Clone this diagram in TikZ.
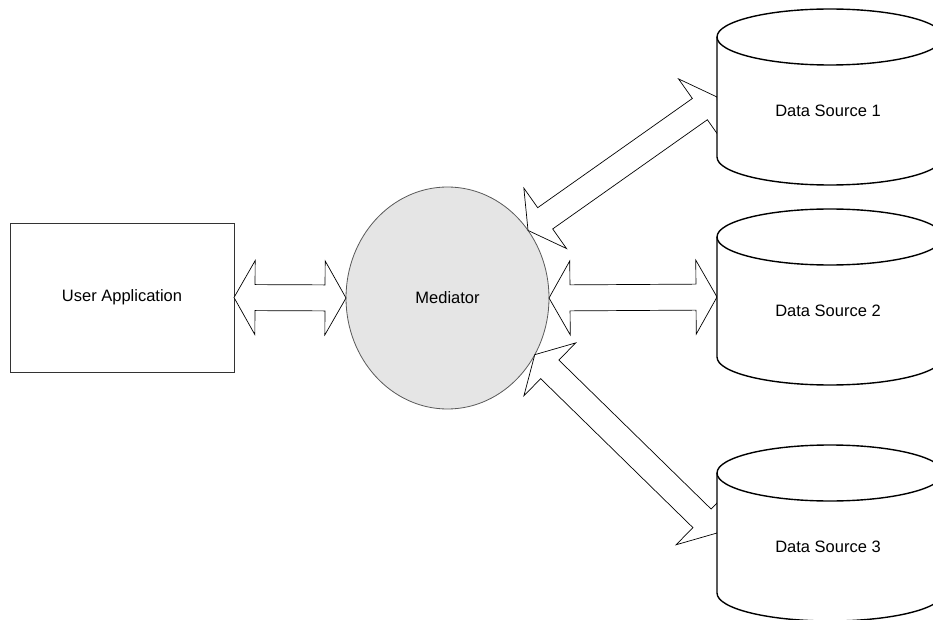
\documentclass[tikz,border=0pt]{standalone}
\usepackage{fontspec}
\setmainfont{Liberation Sans}
\usetikzlibrary{calc,shapes.geometric}

\tikzset{
  lbl/.style={font=\fontsize{16.5}{19}\selectfont},
  appbox/.style={draw=black!80, line width=0.9pt, minimum width=224pt,
    minimum height=149pt, inner sep=0pt, outer sep=0pt, lbl},
  medellipse/.style={ellipse, draw=black!65, fill=gray!20, line width=0.8pt,
    minimum width=203pt, minimum height=222pt, inner sep=0pt, outer sep=0pt, lbl},
  dbbody/.style={minimum width=226pt, minimum height=176pt, inner sep=0pt, outer sep=0pt},
  dbline/.style={draw=black, line width=1.4pt, fill=white},
  blockarrow/.style={draw=black, line width=0.7pt, fill=white, line join=miter},
}

% hollow two-headed block arrow between two points
\newcommand\duplexarrow[2]{%
  \draw[blockarrow] (#1)
    -- ($(#1)!21pt!(#2)!37pt!90:(#2)$)
    -- ($(#1)!21pt!(#2)!13pt!90:(#2)$)
    -- ($(#2)!21pt!(#1)!13pt!-90:(#1)$)
    -- ($(#2)!21pt!(#1)!37pt!-90:(#1)$)
    -- (#2)
    -- ($(#2)!21pt!(#1)!37pt!90:(#1)$)
    -- ($(#2)!21pt!(#1)!13pt!90:(#1)$)
    -- ($(#1)!21pt!(#2)!13pt!-90:(#2)$)
    -- ($(#1)!21pt!(#2)!37pt!-90:(#2)$)
    -- cycle;}

% database drum drawn around an invisible body node
\newcommand\drumstore[1]{%
  \draw[dbline] ($(#1.north west)+(0,-28)$) -- ($(#1.south west)+(0,28)$)
    arc[start angle=180, end angle=360, x radius=113pt, y radius=28pt]
    -- ($(#1.north east)+(0,-28)$)
    arc[start angle=0, end angle=180, x radius=113pt, y radius=28pt] -- cycle;
  \draw[line width=1.4pt] ($(#1.north west)+(0,-28)$)
    arc[start angle=180, end angle=360, x radius=113pt, y radius=28pt];}

\begin{document}
\begin{tikzpicture}[x=1pt, y=1pt]
  \useasboundingbox (0,0) rectangle (933,-620);

  % application and mediator
  \node[appbox] (ua) at (122,-297.5) {User Application};
  \node[medellipse] (med) at (447.5,-298) {Mediator};

  % bodies of the three sources
  \node[dbbody] (ds1) at (830,-97) {};
  \node[dbbody] (ds2) at (830,-297) {};
  \node[dbbody] (ds3) at (830,-533) {};

  % connectors
  \duplexarrow{ua.east}{med.west}
  \duplexarrow{med.east}{ds2.west}
  \duplexarrow{med.40.6}{ds1.west}
  \duplexarrow{med.-33.8}{ds3.west}

  % source drums with labels
  \drumstore{ds1}
  \drumstore{ds2}
  \drumstore{ds3}
  \node[lbl] (ds1lbl) at ($(ds1.center)+(-2,-14)$) {Data Source 1};
  \node[lbl] (ds2lbl) at ($(ds2.center)+(-2,-14)$) {Data Source 2};
  \node[lbl] (ds3lbl) at ($(ds3.center)+(-2,-14)$) {Data Source 3};
\end{tikzpicture}
\end{document}
